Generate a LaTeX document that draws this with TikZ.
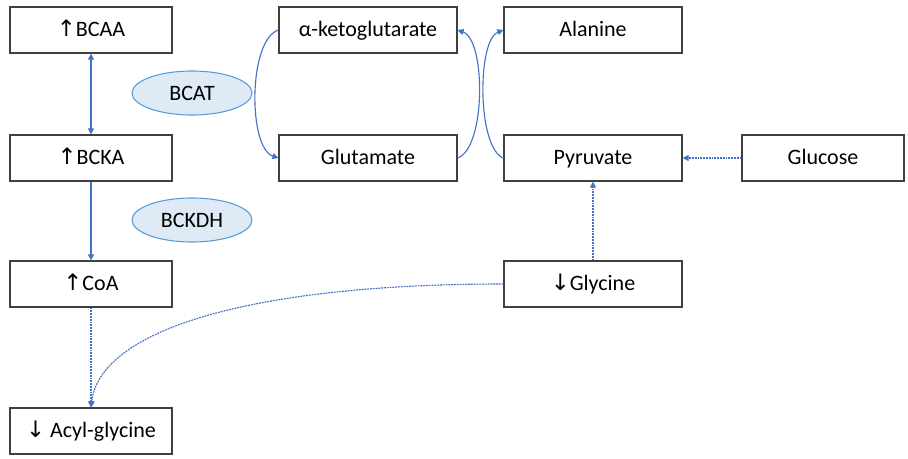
\documentclass[tikz,border=0pt]{standalone}
\usepackage{fontspec}
\setmainfont{Carlito}
\newfontfamily\arrowfont{DejaVu Sans}
\usepackage{xcolor}
\usetikzlibrary{positioning,arrows.meta,shapes.geometric}

\definecolor{linkblue}{RGB}{68,114,196}
\definecolor{enzfill}{RGB}{222,235,247}
\definecolor{enzline}{RGB}{91,155,213}
\newcommand{\upar}{{\arrowfont\fontsize{17}{19}\selectfont ↑}}
\newcommand{\downar}{{\arrowfont\fontsize{17}{19}\selectfont ↓}}

\begin{document}
\begin{tikzpicture}[x=0.75pt,y=-0.75pt,
  box/.style={draw=black!75, line width=0.9pt, minimum height=34.5pt,
              align=center, font=\fontsize{16.5}{19}\selectfont, inner sep=3pt,
              text height=11pt, text depth=1pt},
  sidebox/.style={box, minimum width=121.5pt},
  midbox/.style={box, minimum width=133.5pt},
  enzyme/.style={ellipse, draw=enzline, fill=enzfill, line width=0.8pt,
                 minimum width=90pt, minimum height=33pt,
                 font=\fontsize{16.5}{19}\selectfont},
  arr/.style={-{Triangle[length=4.5pt,width=4.5pt]}, linkblue, line width=0.85pt},
  darr/.style={arr, dash pattern=on 1.4pt off 0.7pt}
]
  \useasboundingbox (0,0) rectangle (908,458);

  % left column
  \node[sidebox] (bcaa) at (91,30) {\upar BCAA};
  \node[sidebox] (bcka) at (91,158) {\upar BCKA};
  \node[sidebox] (coa) at (91,284) {\upar CoA};
  \node[sidebox] (acyl) at (91,431) {\downar\ Acyl-glycine};

  % enzymes
  \node[enzyme] (bcat) at (192,93) {BCAT};
  \node[enzyme] (bckdh) at (192,220) {BCKDH};

  % transamination
  \node[midbox] (akg) at (368,30) {α-ketoglutarate};
  \node[midbox] (glu) at (368,158) {Glutamate};
  \node[midbox] (ala) at (593,30) {Alanine};
  \node[midbox] (pyr) at (593,158) {Pyruvate};
  \node[midbox] (gly) at (593,284) {\downar Glycine};
  \node[sidebox] (gluc) at (823,158) {Glucose};

  \draw[arr, {Triangle[length=4.5pt,width=4.5pt]}-{Triangle[length=4.5pt,width=4.5pt]}]
    (bcaa) -- (bcka);
  \draw[arr] (bcka) -- (coa);
  \draw[darr] (coa) -- (acyl);

  \draw[arr] (akg.west) .. controls (248,40) and (248,148) .. (glu.west);
  \draw[arr] (glu.east) .. controls (486,148) and (486,40) .. (akg.east);
  \draw[arr] (pyr.west) .. controls (477,148) and (477,40) .. (ala.west);

  \draw[darr] (gluc) -- (pyr);
  \draw[darr] (gly) -- (pyr);
  \draw[darr] (gly.west) .. controls (250,284) and (100,330) .. (acyl.north);
\end{tikzpicture}
\end{document}
